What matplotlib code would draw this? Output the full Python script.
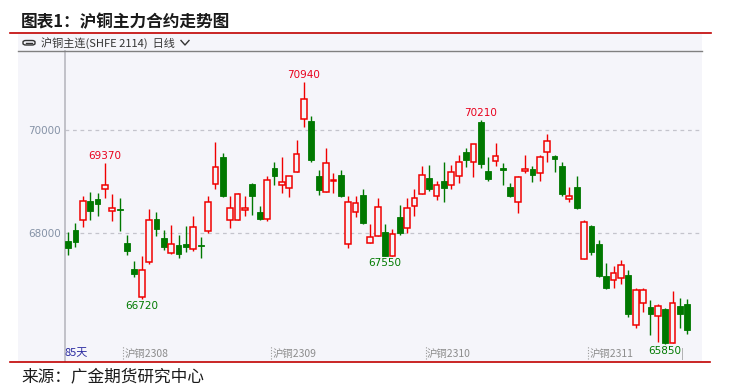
import matplotlib
matplotlib.use('Agg')
import matplotlib.pyplot as plt
from matplotlib.lines import Line2D
from matplotlib.patches import Rectangle, FancyBboxPatch

plt.rcParams['font.family'] = ['Noto Sans CJK SC', 'DejaVu Sans']

# daily OHLC of the SHFE copper main contract (85 days)
opens = [67850, 68070, 68260, 68630, 68670, 68870, 68430, 68480, 67810, 67310,
         66760, 67430, 68280, 67910, 67620, 67770, 67790, 67690, 67770, 68040,
         68960, 69490, 68260, 68260, 68450, 68960, 68410, 68270, 69270, 68940,
         68880, 69190, 70220, 70190, 69120, 68800, 69010, 69140, 67790, 68410,
         68750, 67810, 67940, 68030, 67560, 68320, 68100, 68530, 68760, 69080,
         68730, 69020, 68940, 69110, 69580, 69380, 70170, 69220, 69410, 69270,
         68900, 68610, 69220, 69250, 69170, 69580, 69510, 69310, 68660, 68900,
         67500, 68140, 67790, 67170, 67090, 67130, 67190, 66210, 66640, 66560,
         66390, 66530, 65870, 66590, 66630]
highs = [68030, 68200, 68730, 68810, 68790, 69370, 68770, 68690, 67970, 67450,
         67550, 68480, 68420, 68070, 68160, 67970, 68140, 68340, 67920, 68730,
         69770, 69570, 68720, 68780, 68730, 68970, 68530, 69120, 69390, 69490,
         69120, 69820, 70940, 70290, 69230, 69660, 69180, 69230, 68720, 68730,
         68860, 68180, 68690, 68180, 68080, 68550, 68690, 68860, 69310, 69330,
         69020, 69390, 69330, 69530, 69660, 69740, 70210, 69490, 69750, 69370,
         68980, 69120, 69530, 69300, 69530, 69940, 69530, 69380, 68900, 69120,
         68260, 68160, 67870, 67420, 67370, 67470, 67290, 66930, 66940, 66700,
         66630, 66540, 66870, 66740, 66720]
lows = [67580, 67740, 68130, 68260, 68330, 68680, 68230, 68050, 67580, 67150,
        66720, 67410, 67940, 67680, 67600, 67510, 67640, 67660, 67510, 68000,
        68860, 68700, 68110, 68250, 68330, 68360, 68250, 68230, 68940, 68790,
        68700, 69190, 70060, 69380, 68750, 68800, 68790, 68700, 67720, 68310,
        68180, 67810, 67940, 67550, 67560, 67960, 68000, 68330, 68760, 68830,
        68650, 68600, 68870, 68970, 69290, 69100, 69270, 69010, 69310, 68940,
        68700, 68400, 69180, 68990, 69010, 69380, 69200, 68730, 68600, 68480,
        67500, 67570, 67150, 66920, 66940, 67020, 66360, 66150, 66460, 66010,
        65880, 65850, 65860, 66160, 66040]
closes = [67720, 67820, 68630, 68440, 68560, 68940, 68490, 68460, 67660, 67200,
          67280, 68260, 68090, 67740, 67790, 67600, 67740, 68120, 67750, 68610,
          69290, 68720, 68490, 68760, 68490, 68720, 68270, 69030, 69120, 69000,
          69110, 69540, 70610, 69420, 68850, 69370, 69040, 68720, 68610, 68590,
          68190, 67920, 68510, 67550, 67990, 68000, 68500, 68690, 69130, 68870,
          68940, 68890, 69190, 69380, 69420, 69740, 69340, 69050, 69500, 69230,
          68730, 69090, 69250, 69130, 69480, 69790, 69440, 68770, 68720, 68500,
          68220, 67640, 67170, 66940, 67220, 67380, 66420, 66890, 66900, 66420,
          66580, 65860, 66650, 66420, 66110]

# marked highs / lows (bar index, which end)
marks = [(5, 'high'), (10, 'low'), (32, 'high'), (43, 'low'), (56, 'high'), (81, 'low')]

month_labels = ['沪铜2308', '沪铜2309', '沪铜2310', '沪铜2311']
month_start = [8, 28, 49, 71]
yticks = [68000, 70000]

RED = '#f00000'
GREEN = '#007800'
PANEL = '#f5f5fa'

W, H = 734, 392
def fx(px):
    return px / W
def fy(py):
    return 1 - py / H

fig = plt.figure(figsize=(7.34, 3.92), dpi=100)
fig.patch.set_facecolor('white')

# grey panel behind header + chart
fig.add_artist(Rectangle((fx(18), fy(361)), fx(702) - fx(18), fy(34) - fy(361),
                         transform=fig.transFigure, facecolor=PANEL, edgecolor='none', zorder=0))

# title + red rules
fig.text(fx(21), fy(22), '图表1：沪铜主力合约走势图', fontsize=12, fontweight='bold',
         color='#1a1a1a', ha='left', va='center')
fig.add_artist(Line2D([fx(10), fx(711)], [fy(33.3), fy(33.3)], transform=fig.transFigure,
                      color='#c00000', lw=1.2))
fig.add_artist(Line2D([fx(10), fx(710)], [fy(362.3), fy(362.3)], transform=fig.transFigure,
                      color='#c00000', lw=1.2))
fig.text(fx(21), fy(377), '来源：广金期货研究中心', fontsize=12, color='#1a1a1a',
         ha='left', va='center')

# header strip
fig.add_artist(FancyBboxPatch((fx(23), fy(45)), fx(12), fy(40.5) - fy(45),
                              boxstyle='round,pad=0,rounding_size=0.004',
                              transform=fig.transFigure, facecolor='none',
                              edgecolor='#333333', lw=1.0))
fig.add_artist(Line2D([fx(26), fx(32)], [fy(42.8), fy(42.8)], transform=fig.transFigure,
                      color='#333333', lw=1.0))
fig.text(fx(41), fy(42.8), '沪铜主连(SHFE 2114)  日线', fontsize=8, color='#333333',
         ha='left', va='center')
fig.add_artist(Line2D([fx(181), fx(185), fx(189)], [fy(40.5), fy(45), fy(40.5)],
                      transform=fig.transFigure, color='#333333', lw=1.0))
fig.add_artist(Line2D([fx(18), fx(702)], [fy(51.3), fy(51.3)], transform=fig.transFigure,
                      color='#808080', lw=1.0))

ax = fig.add_axes([fx(65), fy(361), fx(702) - fx(65), fy(51.3) - fy(361)])
ax.patch.set_alpha(0)
ax.set_xlim(-0.41, 86.0)
ax.set_ylim(65512, 71542)

for v in yticks:
    ax.axhline(v, color='#c4c4cc', lw=0.9, ls=(0, (3, 3)), zorder=1)

xs = list(range(len(opens)))
for i in xs:
    o, h, l, c = opens[i], highs[i], lows[i], closes[i]
    up = c >= o
    col = RED if up else GREEN
    ax.vlines(i, l, h, color=col, lw=1.0, zorder=2)
    ax.bar(i, max(abs(c - o), 1), bottom=min(o, c), width=0.78,
           facecolor=PANEL if up else GREEN, edgecolor=col,
           linewidth=1.1 if up else 0.6, zorder=3)

for i, kind in marks:
    if kind == 'high':
        ax.annotate(str(highs[i]), (i, highs[i]), xytext=(0, 1.5), textcoords='offset points',
                    ha='center', va='bottom', fontsize=7.5, color='#e8001c',
                    family='DejaVu Sans')
    else:
        ax.annotate(str(lows[i]), (i, lows[i]), xytext=(0, -1.5), textcoords='offset points',
                    ha='center', va='top', fontsize=7.5, color='#007a00',
                    family='DejaVu Sans')

# bottom date strip
tr = ax.get_xaxis_transform()
ax.text(-0.5, 0.026, '85天', transform=tr, fontsize=8, color='#2a2aa0', ha='left', va='center')
for lab, s in zip(month_labels, month_start):
    ax.plot([s - 0.5, s - 0.5], [0.005, 0.048], transform=tr, color='#9a9a9a',
            lw=0.8, ls=(0, (1, 1.5)))
    ax.text(s - 0.3, 0.024, lab, transform=tr, fontsize=7.5, color='#8c8c8c',
            ha='left', va='center')
ax.text(83.3, 0.022, '|', transform=tr, fontsize=7, color='#8c8c8c', ha='center', va='center')

ax.set_xticks([])
ax.set_yticks(yticks)
ax.set_yticklabels([str(v) for v in yticks], family='DejaVu Sans')
ax.tick_params(axis='y', length=0, pad=3, labelsize=7.5, labelcolor='#8592a6')
for k in ['top', 'right', 'bottom']:
    ax.spines[k].set_visible(False)
ax.spines['left'].set_color('#b8b8c0')
ax.spines['left'].set_linewidth(1.2)

fig.savefig('out.png', dpi=100, facecolor='white')
